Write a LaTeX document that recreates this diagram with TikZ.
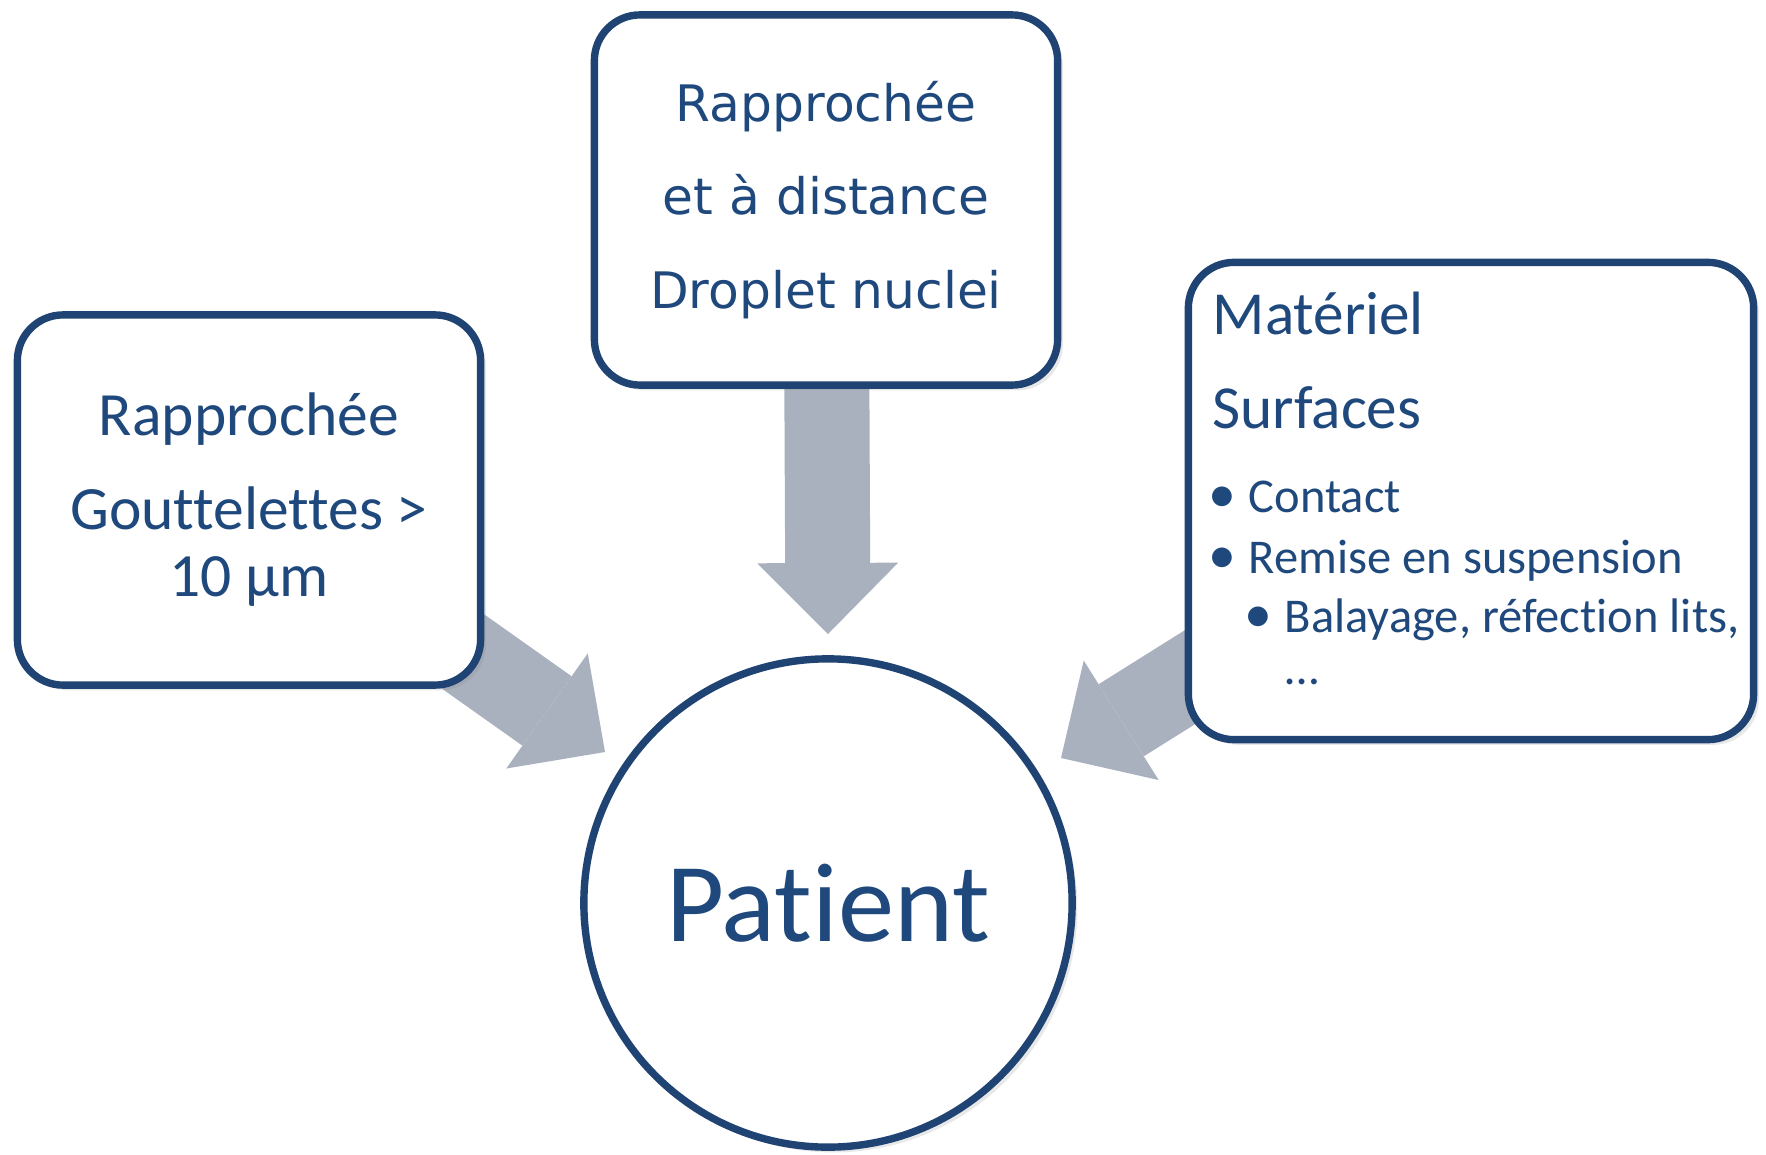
\documentclass[tikz,border=0pt]{standalone}
\usepackage{fontspec}
\setmainfont{Carlito}[Ligatures={NoCommon}]
\newfontfamily\verdfont{DejaVu Sans}
\usetikzlibrary{arrows.meta, backgrounds, shadows}

\definecolor{boxblue}{HTML}{1F4373}
\definecolor{textblue}{HTML}{1F497D}
\definecolor{arrowgray}{HTML}{AAB1BE}

\newcommand{\blt}{\makebox[4.3pt][c]{\scalebox{1.15}{•}}\hspace{5.4pt}}

\tikzset{
  card/.style = {draw=boxblue, line width=2.1pt, fill=white, rounded corners=13pt, text=textblue, align=center, inner sep=0pt,
    drop shadow={opacity=0.18, shadow xshift=1.5pt, shadow yshift=-1.5pt}},
  bigarrow/.style = {draw=arrowgray, line width=0.85cm, -{Triangle[length=0.71cm, width=1.41cm, line width=0pt]}},
  listtext/.style = {anchor=base west, inner sep=0pt, text=textblue}
}

\begin{document}
\begin{tikzpicture}[x=0.01cm, y=-0.01cm]
\useasboundingbox (0,0) rectangle (1766,1154);

% the three sources
\node[card, minimum width=4.63cm, minimum height=3.7cm, font={\fontsize{17.5}{19.3}\selectfont}] (near) at (249,500) {Rapprochée\\[7.2pt]Gouttelettes >\\10 µm};
\node[card, minimum width=4.63cm, minimum height=3.7cm, font={\verdfont\fontsize{14.3}{26.5}\selectfont}] (far) at (826,200) {Rapprochée\\et à distance\\Droplet nuclei};
\node[card, minimum width=5.65cm, minimum height=4.77cm] (surf) at (1471,501) {};

\node[listtext, font={\fontsize{17.4}{20}\selectfont}] (mat) at (1212,334) {Matériel};
\node[listtext, font={\fontsize{17.4}{20}\selectfont}] (surfaces) at (1212,428) {Surfaces};
\node[listtext, font={\fontsize{13.8}{16}\selectfont}] (contact) at (1214,512) {\blt Contact};
\node[listtext, font={\fontsize{13.8}{16}\selectfont}] (remise) at (1214,573) {\blt Remise en suspension};
\node[listtext, font={\fontsize{13.8}{16}\selectfont}] (balayage) at (1250,632) {\blt Balayage, réfection lits,};
\node[listtext, font={\fontsize{13.8}{16}\selectfont}] (dots) at (1285,684) {…};

% the patient
\node[circle, draw=boxblue, line width=2.1pt, fill=white, minimum size=4.88cm, inner sep=0pt, text=textblue,
  font={\fontsize{32}{36}\selectfont}, drop shadow={opacity=0.18, shadow xshift=1.5pt, shadow yshift=-1.5pt}] (patient) at (828,903) {Patient};

\coordinate (neartip) at (605,752);
\coordinate (fartip) at (828,634);
\coordinate (surftip) at (1061,758);

\begin{scope}[on background layer]
\draw[bigarrow] (near.center) -- (neartip);
\draw[bigarrow] (far.center) -- (fartip);
\draw[bigarrow] (surf.center) -- (surftip);
\end{scope}
\end{tikzpicture}
\end{document}
